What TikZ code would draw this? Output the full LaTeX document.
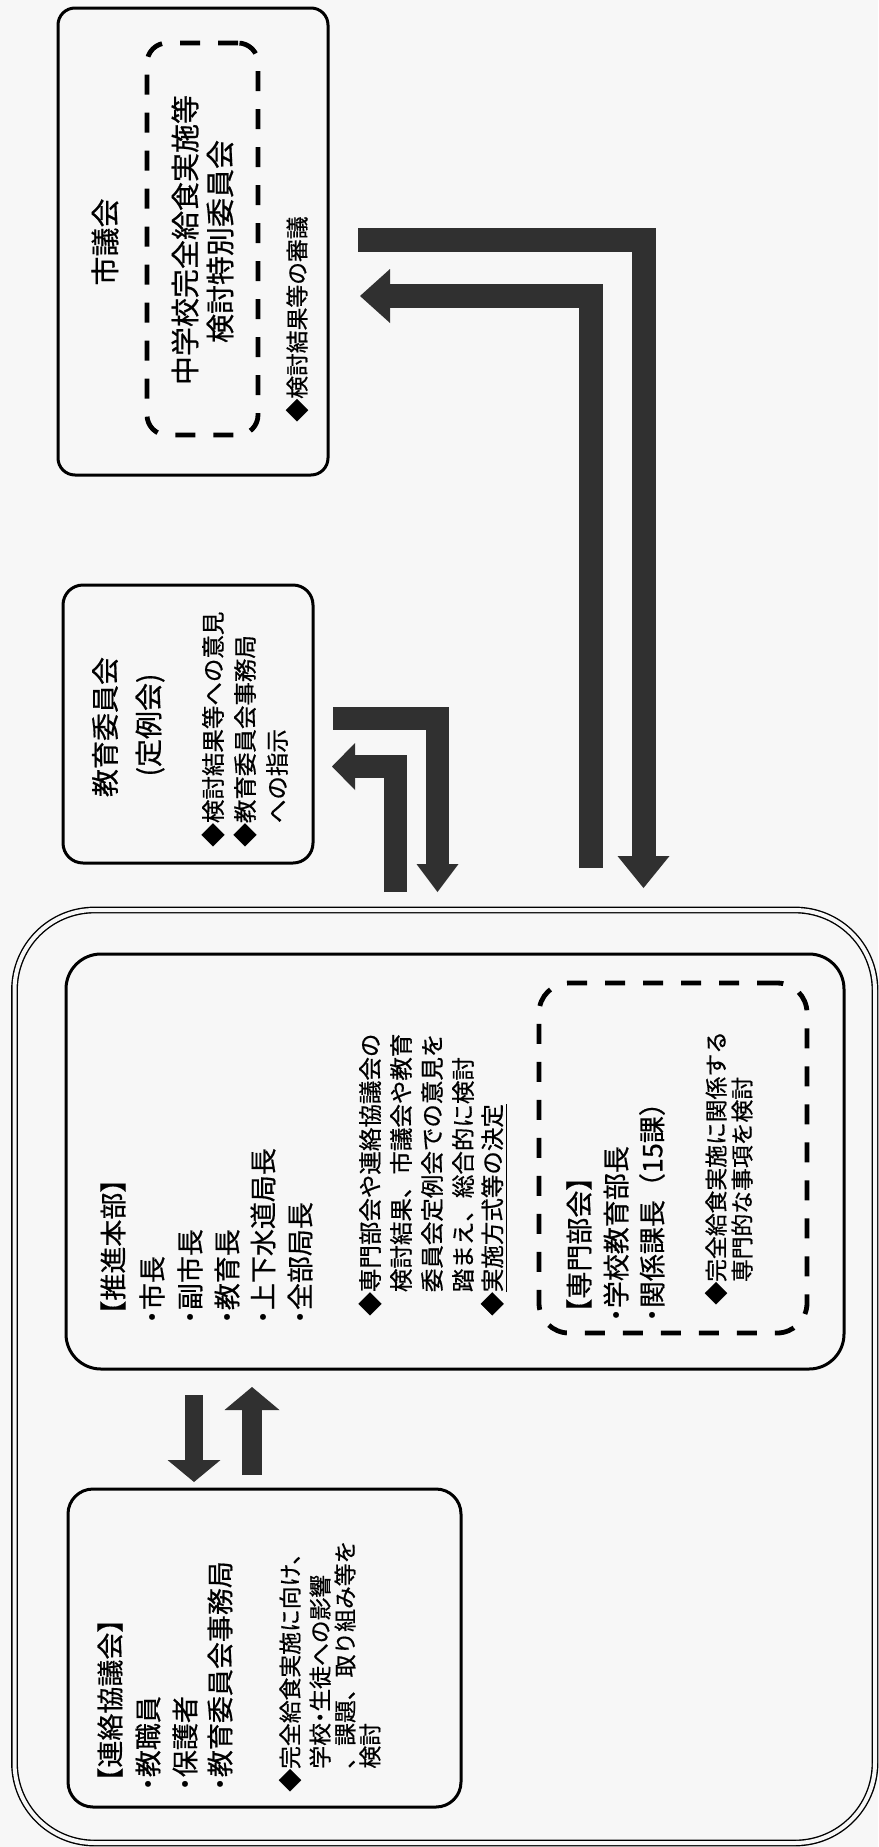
\documentclass[tikz,border=0pt]{standalone}
\usepackage{fontspec}
\setmainfont{Noto Sans CJK JP}[FakeBold=0.6]
\usetikzlibrary{arrows.meta}
\definecolor{bg}{HTML}{F7F7F7}
\definecolor{arrowgray}{HTML}{303030}
\newcommand\nakaguroDot{\makebox[0.5em][c]{・}}
\begin{document}
\begin{tikzpicture}[x=0.5pt,y=-0.5pt,
  solidbox/.style={draw=black, line width=1.5pt, rounded corners=#1, inner sep=0pt},
  dashbox/.style={draw=black, line width=2.4pt, dash pattern=on 10pt off 9pt, rounded corners=#1, inner sep=0pt},
  outerbox/.style={draw=black, line width=0.7pt, double=bg, double distance=2pt, rounded corners=40pt, inner sep=0pt},
  tl/.style={inner sep=0pt, rotate=90, anchor=west},
  tcen/.style={inner sep=0pt, rotate=90, anchor=center},
  fa/.style={font=\fontsize{14.5}{17}\selectfont},
  fb/.style={font=\fontsize{14}{17}\selectfont},
  fc/.style={font=\fontsize{13.5}{16}\selectfont},
  fd/.style={font=\fontsize{11.75}{14}\selectfont},
  fe/.style={font=\fontsize{11.4}{14}\selectfont},
  blockarrow/.style={draw=arrowgray, line width=#1, line join=miter, line cap=butt},
]
\useasboundingbox (0,0) rectangle (878,1847);
\fill[bg] (0,0) rectangle (878,1847);

% ---------- boxes ----------
\node[solidbox=8.5pt, minimum width=135pt, minimum height=233.5pt] (shigikai) at (193,241.5) {};
\node[dashbox=10pt, minimum width=55.5pt, minimum height=196pt] (tokubetsu) at (202.5,239) {};
\node[solidbox=10pt, minimum width=125pt, minimum height=139pt] (kyoiku) at (188,724) {};
\node[outerbox, minimum width=430.25pt, minimum height=466.5pt] (outer) at (444.75,1376.5) {};
\node[solidbox=17.5pt, minimum width=389pt, minimum height=207.5pt] (suishin) at (455,1161.5) {};
\node[dashbox=15pt, minimum width=134pt, minimum height=175pt] (senmon) at (673,1158) {};
\node[solidbox=12.5pt, minimum width=196.5pt, minimum height=159pt] (renraku) at (264.5,1648) {};

% ---------- texts: 市議会 ----------
\node[tcen,fa] (t1) at (105,242) {市議会};
\node[tcen,fa] (t2) at (185,240) {中学校完全給食実施等};
\node[tcen,fa] (t3) at (220,241.5) {検討特別委員会};
\node[tl,fe] (t4) at (297,422) {◆検討結果等の審議};

% ---------- texts: 教育委員会 ----------
\node[tcen,fb] (k1) at (105,727) {教育委員会};
\node[tcen,fb] (k2) at (150,725) {(定例会)};
\node[tl,fd] (k3) at (213,847) {◆検討結果等への意見};
\node[tl,fd] (k4) at (245,847) {◆教育委員会事務局};
\node[tl,fd] (k5) at (277,823.5) {への指示};

% ---------- texts: 推進本部 ----------
\node[tl,fc] (s1) at (113,1328) {【推進本部】};
\node[tl,fc] (s2) at (152,1324) {\nakaguroDot 市長};
\node[tl,fc] (s3) at (190,1324) {\nakaguroDot 副市長};
\node[tl,fc] (s4) at (227,1324) {\nakaguroDot 教育長};
\node[tl,fc] (s5) at (263,1324) {\nakaguroDot 上下水道局長};
\node[tl,fc] (s6) at (300,1324) {\nakaguroDot 全部局長};
\node[tl,fd] (s7) at (370,1316) {◆専門部会や連絡協議会の};
\node[tl,fd] (s8) at (401,1292.5) {検討結果、市議会や教育};
\node[tl,fd] (s9) at (432,1292.5) {委員会定例会での意見を};
\node[tl,fd] (s10) at (463,1292.5) {踏まえ、総合的に検討};
\node[tl,fd] (s11) at (494,1316) {◆\underline{実施方式等の決定}};

% ---------- texts: 専門部会 ----------
\node[tl,fc] (m1) at (579,1326) {【専門部会】};
\node[tl,fc] (m2) at (616,1322) {\nakaguroDot 学校教育部長};
\node[tl,fc] (m3) at (652,1322) {\nakaguroDot 関係課長（15課）};
\node[tl,fe] (m4) at (716,1305) {◆完全給食実施に関係する};
\node[tl,fe] (m5) at (742,1282.5) {専門的な事項を検討};

% ---------- texts: 連絡協議会 ----------
\node[tl,fc] (r1) at (110,1795) {【連絡協議会】};
\node[tl,fc] (r2) at (148,1791) {\nakaguroDot 教職員};
\node[tl,fc] (r3) at (185,1791) {\nakaguroDot 保護者};
\node[tl,fc] (r4) at (220,1791) {\nakaguroDot 教育委員会事務局};
\node[tl,fe] (r5) at (290,1792) {◆完全給食実施に向け、};
\node[tl,fe] (r6) at (320,1769) {学校\nakaguroDot 生徒への影響};
\node[tl,fe] (r7) at (345,1769) {、課題、取り組み等を};
\node[tl,fe] (r8) at (370,1769) {検討};

% ---------- arrows ----------
\coordinate (a1s) at (358,240);
\coordinate (a1c) at (643.5,240);
\coordinate (a1e) at (643.5,888);
\draw[blockarrow=12pt, -{Triangle[width=26pt,length=16pt,line width=0pt]}] (a1s) -- (a1c) -- (a1e);

\coordinate (a2s) at (591,868);
\coordinate (a2c) at (591,296);
\coordinate (a2e) at (360,296);
\draw[blockarrow=12pt, -{Triangle[width=27pt,length=15pt,line width=0pt]}] (a2s) -- (a2c) -- (a2e);

\coordinate (a3s) at (333,718.5);
\coordinate (a3c) at (437.5,718.5);
\coordinate (a3e) at (437.5,892);
\draw[blockarrow=11.5pt, -{Triangle[width=21pt,length=14pt,line width=0pt]}] (a3s) -- (a3c) -- (a3e);

\coordinate (a4s) at (395,892);
\coordinate (a4c) at (395,766.5);
\coordinate (a4e) at (332,766.5);
\draw[blockarrow=11.5pt, -{Triangle[width=23.5pt,length=11.5pt,line width=0pt]}] (a4s) -- (a4c) -- (a4e);

\coordinate (a5s) at (194,1395);
\coordinate (a5e) at (194,1482);
\draw[blockarrow=9pt, -{Triangle[width=26.5pt,length=11pt,line width=0pt]}] (a5s) -- (a5e);

\coordinate (a6s) at (252,1475);
\coordinate (a6e) at (252,1387);
\draw[blockarrow=10pt, -{Triangle[width=27.5pt,length=11.5pt,line width=0pt]}] (a6s) -- (a6e);
\end{tikzpicture}
\end{document}
